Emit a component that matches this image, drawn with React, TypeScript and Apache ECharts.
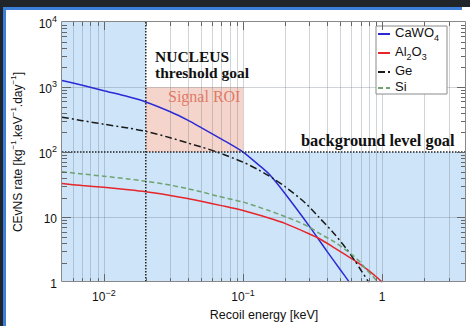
import React, { useEffect, useRef } from "react";
import * as echarts from "echarts";

// CEvNS rate [kg^-1 keV^-1 day^-1] versus recoil energy [keV] for each target
const caWO4Energy = [0.005, 0.007, 0.01, 0.015, 0.02, 0.03, 0.04, 0.05, 0.07, 0.1, 0.13, 0.155, 0.2, 0.3, 0.4, 0.5, 0.58];
const caWO4Rate = [1260, 1065, 877, 708, 590, 417, 310, 238, 158, 100, 63, 45, 23, 7.2, 3.0, 1.55, 1.0];

const al2O3Energy = [0.005, 0.007, 0.01, 0.015, 0.02, 0.03, 0.04, 0.05, 0.07, 0.1, 0.155, 0.2, 0.3, 0.357, 0.45, 0.55, 0.612, 0.7, 0.8, 0.9, 1.0];
const al2O3Rate = [32.7, 30.5, 28.7, 26.3, 24.5, 21.5, 19.3, 17.5, 15, 12.6, 9.6, 8.0, 5.5, 4.6, 3.4, 2.6, 2.25, 1.85, 1.5, 1.22, 1.0];

const geEnergy = [0.005, 0.007, 0.01, 0.015, 0.02, 0.03, 0.04, 0.05, 0.065, 0.1, 0.13, 0.165, 0.2, 0.28, 0.35, 0.45, 0.55, 0.63, 0.7, 0.8];
const geRate = [344, 304, 268, 234, 208, 166, 138, 120, 100, 70, 53, 39, 29.5, 16.5, 10, 5.6, 3.3, 2.2, 1.55, 1.0];

const siEnergy = [0.005, 0.007, 0.01, 0.015, 0.02, 0.03, 0.04, 0.05, 0.065, 0.1, 0.155, 0.2, 0.254, 0.3, 0.354, 0.45, 0.55, 0.612, 0.7, 0.76, 0.85, 0.93];
const siRate = [50, 46, 42.5, 38.5, 35.6, 31, 27.3, 24.5, 21.1, 17, 12.5, 10.2, 8.3, 7.0, 5.6, 4.2, 3.1, 2.6, 2.0, 1.6, 1.25, 1.0];

const seriesNames = ["CaWO4", "Al2O3", "Ge", "Si"];
const legendLabels: Record<string, string> = {
  CaWO4: "{t|CaWO}{sub|4}",
  Al2O3: "{t|Al}{sub|2}{t|O}{sub|3}",
  Ge: "{t|Ge}",
  Si: "{t|Si}",
};

// Experiment goals
const thresholdEnergy = 0.02; // keV
const backgroundLevel = 100; // counts / (kg keV day)
const roiEnergy = [0.02, 0.1];
const roiRate = [100, 1000];

// Axis ranges
const xRange = [0.005, 4];
const yRange = [1, 10000];

// Annotation texts
const thresholdTitle = "NUCLEUS";
const thresholdSubtitle = "threshold goal";
const roiText = "Signal ROI";
const backgroundText = "background level goal";
const xName = "Recoil energy [keV]";
const yName = "{a|CEvNS rate [kg}{s|−1}{a|.keV}{s|−1}{a|.day}{s|−1}{a|]}";

const SANS = '"Liberation Sans", Arial, sans-serif';
const SERIF = '"Liberation Serif", "Times New Roman", serif';
const BLUE_BG = "#cde4f9";
const PINK_BG = "#f5d5cb";
const GRID = "rgba(110,120,135,0.32)";
const TICK = "#666";

const pairs = (e: number[], r: number[]) => e.map((v, i) => [v, r[i]]);

// decade multiples (1..9 x 10^d) strictly inside (lo, hi)
const logSteps = (lo: number, hi: number) => {
  const out: { v: number; major: boolean }[] = [];
  for (let d = -4; d <= 5; d++) {
    for (let k = 1; k <= 9; k++) {
      const v = Number((k * Math.pow(10, d)).toPrecision(8));
      if (v > lo * 1.00001 && v < hi * 0.99999) out.push({ v, major: k === 1 });
    }
  }
  return out;
};

const powerLabel = (value: number) => {
  const e = Math.log10(value);
  const r = Math.round(e);
  if (Math.abs(e - r) > 1e-6) return "";
  if (r === 0) return "{b|1}";
  if (r === 1) return "{b|10}";
  return `{b|10}{s|${r < 0 ? "−" : ""}${Math.abs(r)}}`;
};

const labelRich = {
  b: { fontFamily: SANS, fontSize: 12, lineHeight: 15, verticalAlign: "bottom", color: "#111" },
  s: { fontFamily: SANS, fontSize: 9, lineHeight: 9, verticalAlign: "top", color: "#111" },
};

const snap = (v: number) => Math.round(v) + 0.5;

function renderBackground(_params: any, api: any) {
  const p = (x: number, y: number) => api.coord([x, y]);
  const [x0, y0] = p(xRange[0], yRange[0]);
  const [x1, y1] = p(xRange[1], yRange[1]);
  const [xt, yb] = p(thresholdEnergy, backgroundLevel);
  const [rx1, ry1] = p(roiEnergy[1], roiRate[1]);
  const [rx0, ry0] = p(roiEnergy[0], roiRate[0]);
  const children: any[] = [
    { type: "rect", shape: { x: x0, y: y1, width: xt - x0, height: y0 - y1 }, style: { fill: BLUE_BG } },
    { type: "rect", shape: { x: xt, y: yb, width: x1 - xt, height: y0 - yb }, style: { fill: BLUE_BG } },
    { type: "rect", shape: { x: rx0, y: ry1, width: rx1 - rx0, height: ry0 - ry1 }, style: { fill: PINK_BG } },
  ];
  for (const { v } of logSteps(xRange[0], xRange[1])) {
    if (Math.abs(v - thresholdEnergy) < 1e-9) continue;
    const x = snap(p(v, yRange[0])[0]);
    children.push({ type: "line", shape: { x1: x, y1: y1, x2: x, y2: y0 }, style: { stroke: GRID, lineWidth: 1 } });
  }
  for (const { v, major } of logSteps(yRange[0], yRange[1])) {
    if (!major || Math.abs(v - backgroundLevel) < 1e-9) continue;
    const y = snap(p(xRange[0], v)[1]);
    children.push({ type: "line", shape: { x1: x0, y1: y, x2: x1, y2: y }, style: { stroke: GRID, lineWidth: 1 } });
  }
  return { type: "group", children };
}

function renderOverlay(_params: any, api: any) {
  const p = (x: number, y: number) => api.coord([x, y]);
  const [x0, y0] = p(xRange[0], yRange[0]);
  const [x1, y1] = p(xRange[1], yRange[1]);
  const [xt, yb] = p(thresholdEnergy, backgroundLevel);
  const dotted = { stroke: "#222", lineWidth: 1.5, lineDash: [1.5, 1.5] };
  const children: any[] = [
    { type: "line", shape: { x1: xt, y1: y1, x2: xt, y2: y0 }, style: dotted },
    { type: "line", shape: { x1: x0, y1: yb, x2: x1, y2: yb }, style: dotted },
  ];
  const tick = { stroke: TICK, lineWidth: 1 };
  for (const { v, major } of logSteps(xRange[0], xRange[1])) {
    const x = snap(p(v, yRange[0])[0]);
    const len = major ? 8 : 4;
    children.push({ type: "line", shape: { x1: x, y1: y0, x2: x, y2: y0 - len }, style: tick });
    children.push({ type: "line", shape: { x1: x, y1: y1, x2: x, y2: y1 + len }, style: tick });
  }
  for (const { v, major } of logSteps(yRange[0], yRange[1])) {
    const y = snap(p(xRange[0], v)[1]);
    const len = major ? 9 : 5;
    children.push({ type: "line", shape: { x1: x0, y1: y, x2: x0 + len, y2: y }, style: tick });
    children.push({ type: "line", shape: { x1: x1, y1: y, x2: x1 - len, y2: y }, style: tick });
  }
  children.push({
    type: "rect",
    shape: { x: snap(x0) - 1, y: snap(y1) - 1, width: Math.round(x1 - x0), height: Math.round(y0 - y1) },
    style: { fill: "none", stroke: "#888", lineWidth: 1 },
  });
  return { type: "group", children };
}

const lineSeries = (name: string, data: number[][], color: string, dash: any) => ({
  name,
  type: "line",
  data,
  symbol: "none",
  showSymbol: false,
  smooth: 0.25,
  z: 3,
  lineStyle: { color, width: 1.5, type: dash },
  itemStyle: { color },
  silent: true,
});

const annotation = (text: string, x: number, y: number, font: string, fill = "#111") => ({
  type: "text",
  x,
  y,
  z: 50,
  style: { text, font, fill, align: "left", verticalAlign: "middle" },
});

export default function App() {
  const ref = useRef<HTMLDivElement>(null);
  useEffect(() => {
    if (!ref.current) return;
    const chart = echarts.init(ref.current, undefined, { renderer: "svg" });
    const option: any = {
      animation: false,
      backgroundColor: "#ffffff",
      grid: { left: 62, top: 22, right: 4, bottom: 40, containLabel: false },
      xAxis: {
        type: "log",
        logBase: 10,
        min: xRange[0],
        max: xRange[1],
        name: xName,
        nameLocation: "middle",
        nameGap: 21,
        nameTextStyle: { fontFamily: SANS, fontSize: 12.5, color: "#111" },
        axisLine: { show: false },
        axisTick: { show: false },
        splitLine: { show: false },
        axisLabel: { formatter: powerLabel, rich: labelRich, margin: 6 },
      },
      yAxis: {
        type: "log",
        logBase: 10,
        min: yRange[0],
        max: yRange[1],
        name: yName,
        nameLocation: "middle",
        nameGap: 38,
        nameTextStyle: {
          rich: {
            a: { fontFamily: SANS, fontSize: 12, lineHeight: 15, verticalAlign: "bottom", color: "#111" },
            s: { fontFamily: SANS, fontSize: 8, lineHeight: 8, verticalAlign: "top", color: "#111" },
          },
        },
        axisLine: { show: false },
        axisTick: { show: false },
        splitLine: { show: false },
        axisLabel: { formatter: powerLabel, rich: labelRich, margin: 5 },
      },
      legend: {
        data: seriesNames,
        orient: "vertical",
        left: 376,
        top: 26,
        padding: [0, 8, 1, 1],
        itemGap: 3,
        itemWidth: 12,
        itemHeight: 10,
        itemTextGap: 4,
        // only the line sample is shown for each entry
        itemStyle: { opacity: 0 },
        lineStyle: { opacity: 1 },
        backgroundColor: "#ffffff",
        borderColor: "#8a8a8a",
        borderWidth: 1,
        selectedMode: false,
        formatter: (name: string) => legendLabels[name],
        textStyle: {
          fontFamily: SANS,
          fontSize: 13,
          color: "#111",
          rich: {
            t: { fontFamily: SANS, fontSize: 13, lineHeight: 16, verticalAlign: "top", color: "#111" },
            sub: { fontFamily: SANS, fontSize: 9, lineHeight: 9, verticalAlign: "bottom", color: "#111" },
          },
        },
      },
      graphic: [
        { type: "rect", shape: { x: 0, y: 0, width: 470, height: 7 }, style: { fill: "#1f2528" }, z: 0 },
        { type: "rect", shape: { x: 0, y: 7, width: 462, height: 3 }, style: { fill: "#3c7fd8" }, z: 0 },
        { type: "rect", shape: { x: 0, y: 0, width: 3, height: 326 }, style: { fill: "#1f2528" }, z: 0 },
        { type: "rect", shape: { x: 3, y: 7, width: 3, height: 319 }, style: { fill: "#3c7fd8" }, z: 0 },
        annotation(thresholdTitle, 155, 56.5, `bold 15.5px ${SERIF}`),
        annotation(thresholdSubtitle, 155, 72.5, `bold 15.5px ${SERIF}`),
        annotation(roiText, 168, 96, `16px ${SERIF}`, "#df7a68"),
        annotation(backgroundText, 301, 140, `bold 16.4px ${SERIF}`),
      ],
      series: [
        {
          type: "custom",
          name: "regions",
          coordinateSystem: "cartesian2d",
          renderItem: renderBackground,
          data: [[0.01, 10]],
          z: 1,
          silent: true,
          clip: false,
        },
        lineSeries("CaWO4", pairs(caWO4Energy, caWO4Rate), "#2b2bd6", "solid"),
        lineSeries("Al2O3", pairs(al2O3Energy, al2O3Rate), "#e6262b", "solid"),
        lineSeries("Ge", pairs(geEnergy, geRate), "#1a1a1a", [7, 3, 2, 3]),
        lineSeries("Si", pairs(siEnergy, siRate), "#6fa36f", [5, 3]),
        {
          type: "custom",
          name: "goals",
          coordinateSystem: "cartesian2d",
          renderItem: renderOverlay,
          data: [[0.01, 10]],
          z: 4,
          silent: true,
          clip: false,
        },
      ],
    };
    chart.setOption(option);
    return () => chart.dispose();
  }, []);
  return (
    <div
      ref={ref}
      style={{ position: "fixed", left: 0, top: 0, width: 470, height: 326 }}
    />
  );
}
